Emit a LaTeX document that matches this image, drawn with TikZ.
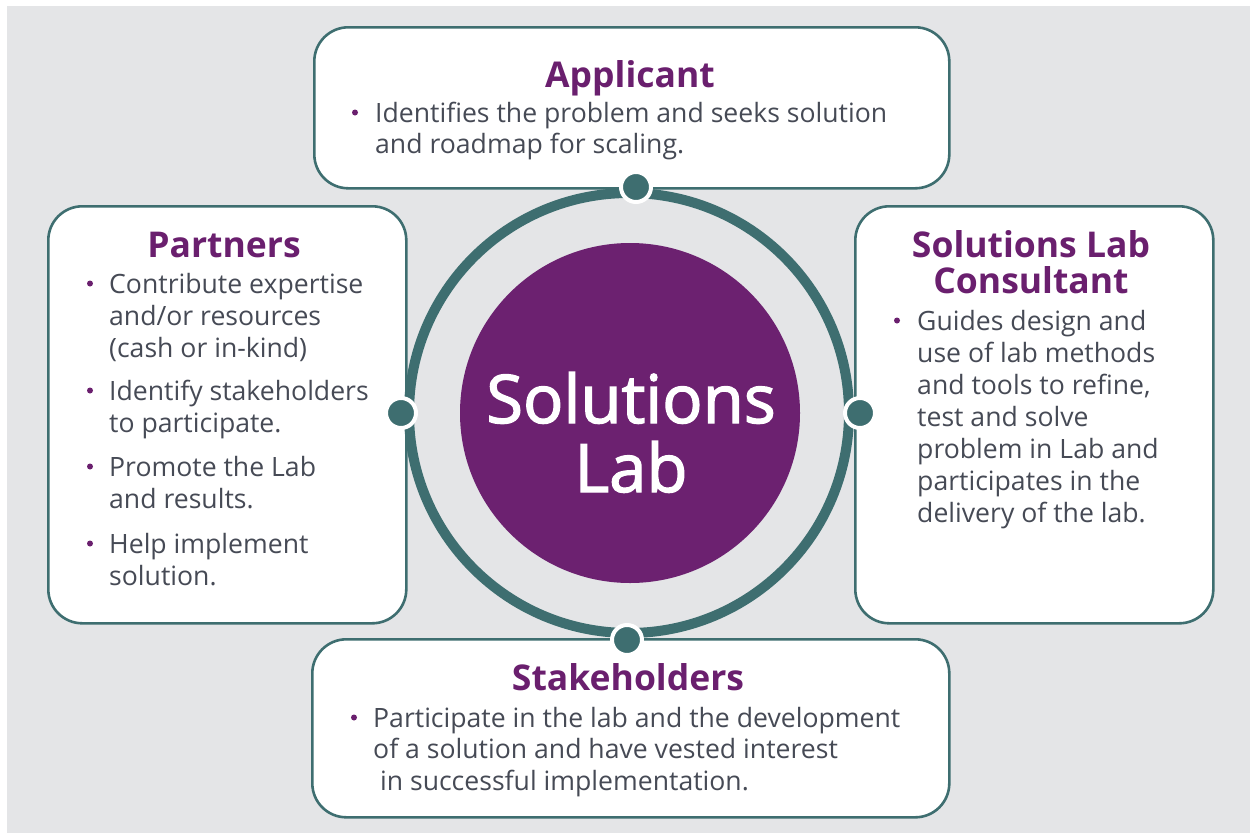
\documentclass[tikz,border=0pt]{standalone}
\usepackage{fontspec}
\setmainfont{Open Sans}
\newfontfamily\corefont{Open Sans}[FakeBold=2]
\definecolor{ringteal}{HTML}{3E6E70}
\definecolor{titlepurple}{HTML}{6A1F6E}
\definecolor{corepurple}{HTML}{6C2170}
\definecolor{txtgray}{HTML}{464A55}
\definecolor{bggray}{HTML}{E4E5E7}
\tikzset{
  card/.style={draw=ringteal, line width=2.6pt, fill=white, rounded corners=34pt, inner sep=0pt, anchor=north west},
  ttl/.style={text=titlepurple, font=\bfseries\fontsize{35.5}{40}\selectfont, anchor=base, inner sep=0pt},
  body/.style={text=txtgray, font=\fontsize{26.6}{32}\selectfont, anchor=base west, inner sep=0pt},
  bul/.style={circle, fill=titlepurple, minimum size=6pt, inner sep=0pt},
  ringdot/.style={circle, fill=ringteal, draw=white, line width=4pt, minimum size=30pt, inner sep=0pt},
  core/.style={text=white, font=\corefont\fontsize{67}{69}\selectfont, anchor=base, inner sep=0pt}
}
\begin{document}
\begin{tikzpicture}[x=1pt,y=-1pt]
\useasboundingbox (0,0) rectangle (1250,833);
\fill[white] (0,0) rectangle (1250,833);
\fill[bggray] (7,6) rectangle (1250,833);

% cards
\node[card, minimum width=635pt, minimum height=161pt] (app) at (313,26) {};
\node[card, minimum width=358pt, minimum height=417pt] (part) at (47,205) {};
\node[card, minimum width=358pt, minimum height=417pt] (cons) at (854,205) {};
\node[card, minimum width=637pt, minimum height=178pt] (stake) at (311,638) {};

% ring and core
\node[circle, draw=ringteal, line width=10pt, minimum size=440pt, inner sep=0pt] (ring) at (629,413) {};
\node[circle, fill=corepurple, minimum size=340pt, inner sep=0pt] (lab) at (630,413) {};
\node[core] (labA) at (631,423) {Solutions};
\node[core] (labB) at (631,492) {Lab};

% dots
\node[ringdot] (dA) at (636,187) {};
\node[ringdot] (dP) at (401,413) {};
\node[ringdot] (dC) at (860,413) {};
\node[ringdot] (dS) at (627,640) {};

% Applicant
\node[ttl] (appT) at (630,87) {Applicant};
\node[bul] (appB) at (355,112.5) {};
\node[body] (appL1) at (375,122) {Identifies the problem and seeks solution};
\node[body] (appL2) at (375,153) {and roadmap for scaling.};

% Partners
\node[ttl] (partT) at (224,257) {Partners};
\node[bul] (partB1) at (90,283.5) {};
\node[body] (partL1) at (109,293) {Contribute expertise};
\node[body] (partL2) at (109,325) {and/or resources};
\node[body] (partL3) at (109,357) {(cash or in-kind)};
\node[bul] (partB2) at (90,390.5) {};
\node[body] (partL4) at (109,400) {Identify stakeholders};
\node[body] (partL5) at (109,432) {to participate.};
\node[bul] (partB3) at (90,466.5) {};
\node[body] (partL6) at (109,476) {Promote the Lab};
\node[body] (partL7) at (109,508) {and results.};
\node[bul] (partB4) at (90,543.5) {};
\node[body] (partL8) at (109,553) {Help implement};
\node[body] (partL9) at (109,585) {solution.};

% Consultant
\node[ttl] (consT1) at (1031,257) {Solutions Lab};
\node[ttl] (consT2) at (1031,293) {Consultant};
\node[bul] (consB) at (897,320.5) {};
\node[body] (consL1) at (917,330) {Guides design and};
\node[body] (consL2) at (917,362) {use of lab methods};
\node[body] (consL3) at (917,394) {and tools to refine,};
\node[body] (consL4) at (917,426) {test and solve};
\node[body] (consL5) at (917,458) {problem in Lab and};
\node[body] (consL6) at (917,490) {participates in the};
\node[body] (consL7) at (917,522) {delivery of the lab.};

% Stakeholders
\node[ttl] (stakeT) at (628,690) {Stakeholders};
\node[bul] (stakeB) at (354,717.5) {};
\node[body] (stakeL1) at (373,727) {Participate in the lab and the development};
\node[body] (stakeL2) at (373,758) {of a solution and have vested interest};
\node[body] (stakeL3) at (373,790) {\ in successful implementation.};
\end{tikzpicture}
\end{document}
